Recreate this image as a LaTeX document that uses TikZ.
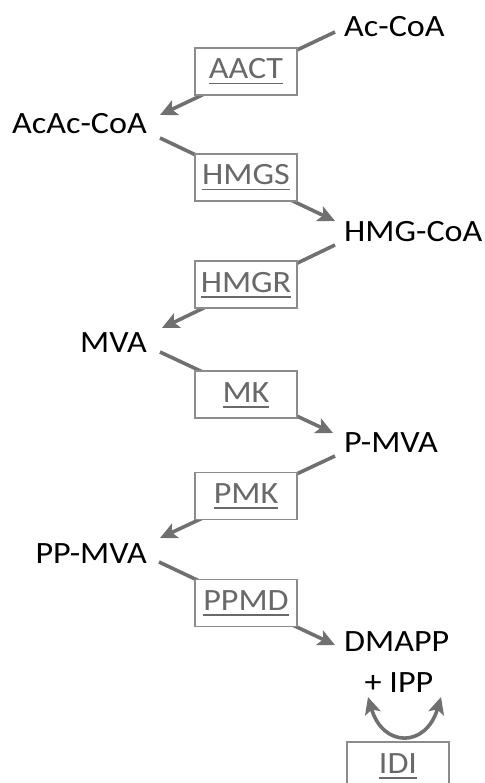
\documentclass[tikz,border=0pt]{standalone}
\usepackage{fontspec}
\setmainfont{Carlito}[FakeStretch=1.1]
\usepackage{tikz}
\usetikzlibrary{arrows.meta}
\definecolor{arrowgray}{RGB}{112,112,112}
\definecolor{boxgray}{RGB}{140,140,140}
\definecolor{enzgray}{RGB}{105,105,105}
\pgfdeclarelayer{background}
\pgfsetlayers{background,main}
\newcommand{\enzname}[1]{\setbox0\hbox{#1}\rlap{\raisebox{-5.5pt}{\rule{\wd0}{1.8pt}}}\box0}

\begin{document}
\begin{tikzpicture}[x=1pt, y=-1pt, >={Stealth[length=17pt,width=16pt,inset=4pt]},
    metab/.style={inner sep=0pt, text height=19pt, text depth=0pt, font=\fontsize{31}{33}\selectfont},
    enzyme/.style={draw=boxgray, line width=1.3pt, fill=white, text=enzgray, inner sep=0pt,
        minimum width=102pt, minimum height=47pt, text height=19pt, text depth=4pt,
        font=\fontsize{31}{33}\selectfont},
    conv/.style={draw=arrowgray, line width=3.6pt}]
    \useasboundingbox (0,0) rectangle (484,783);
    \clip (0,0) rectangle (484,783);

    % metabolites
    \node[metab, anchor=base west] (acoa)   at (344,37)  {Ac-CoA};
    \node[metab, anchor=base east] (acacoa) at (147,134) {AcAc-CoA};
    \node[metab, anchor=base west] (hmgcoa) at (344,242) {HMG-CoA};
    \node[metab, anchor=base east] (mva)    at (147,352) {MVA};
    \node[metab, anchor=base west] (pmva)   at (344,452) {P-MVA};
    \node[metab, anchor=base east] (ppmva)  at (147,563) {PP-MVA};
    \node[metab, anchor=base west] (dmapp)  at (344,651) {DMAPP};
    \node[metab, anchor=base]      (ipp)    at (399,692) {+ IPP};

    % enzymes
    \node[enzyme] (aact) at (246,71.5)  {\enzname{AACT}};
    \node[enzyme] (hmgs) at (246,177.5) {\enzname{HMGS}};
    \node[enzyme] (hmgr) at (246,284.5) {\enzname{HMGR}};
    \node[enzyme] (mk)   at (246,394.5) {\enzname{MK}};
    \node[enzyme] (pmk)  at (246,496)   {\enzname{PMK}};
    \node[enzyme] (ppmd) at (246,603)   {\enzname{PPMD}};
    \node[enzyme] (idi)  at (398,765.5) {\enzname{IDI}};

    \begin{pgfonlayer}{background}
        \draw[conv,->] ([shift={(-9,4.5)}]acoa.west) -- ([shift={(13,-9.5)}]acacoa.east);
        \draw[conv,->] ([shift={(13,13.5)}]acacoa.east) -- ([shift={(-9,-11.5)}]hmgcoa.west);
        \draw[conv,->] ([shift={(-9,12.5)}]hmgcoa.west) -- ([shift={(15,-14.5)}]mva.east);
        \draw[conv,->] ([shift={(13,9.5)}]mva.east) -- ([shift={(-11,-9.5)}]pmva.west);
        \draw[conv,->] ([shift={(-9,13.5)}]pmva.west) -- ([shift={(13,-15.5)}]ppmva.east);
        \draw[conv,->] ([shift={(12,8.5)}]ppmva.east) -- ([shift={(-9,3.5)}]dmapp.west);
    \end{pgfonlayer}

    % isomerase
    \coordinate (isoL) at (368,697);
    \coordinate (isoR) at (441,697);
    \draw[conv,<->] (isoL) .. controls (383,748) and (426,748) .. (isoR);
\end{tikzpicture}
\end{document}
